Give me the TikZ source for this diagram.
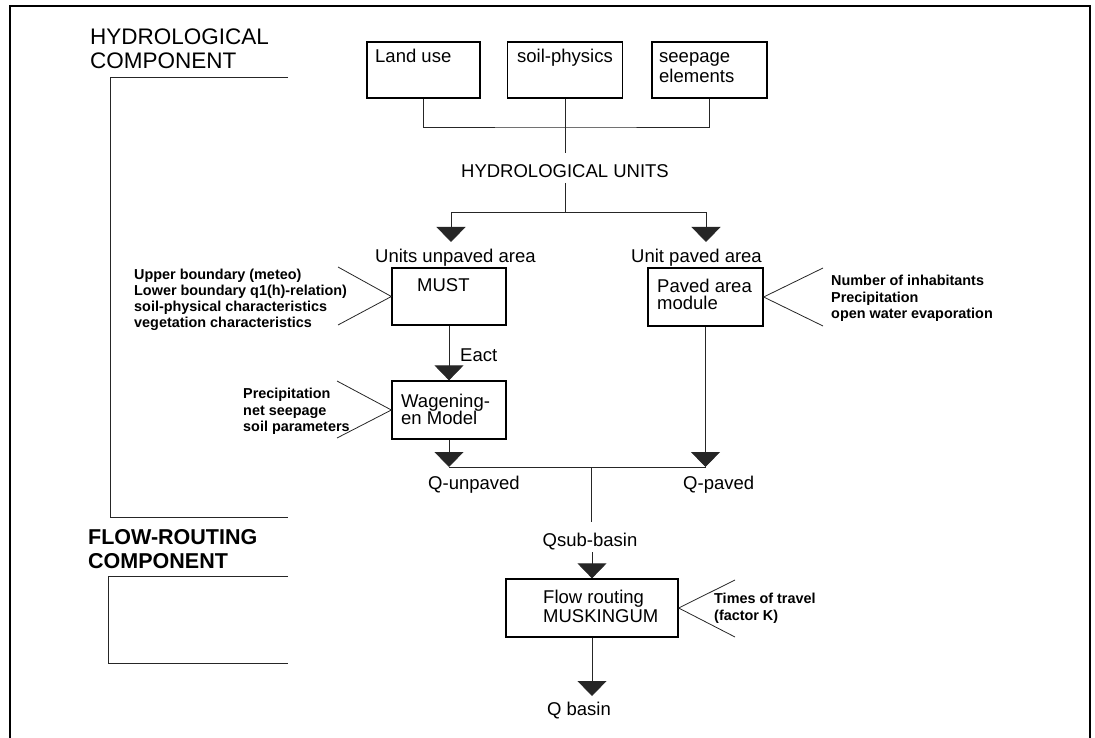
\documentclass[tikz,border=0pt]{standalone}
\usepackage{fontspec}
\setmainfont{Liberation Sans}
\usetikzlibrary{arrows.meta}
\begin{document}
\begin{tikzpicture}[x=1pt,y=-1pt,
  ln/.style={line width=0.8pt, draw=black!85},
  arr/.style={ln, -{Triangle[width=29pt,length=15pt]}},
  boxn/.style={draw=black, line width=1.3pt, inner sep=0pt},
  txt/.style={inner sep=0pt, anchor=base west, font=\fontsize{18.5}{20}\selectfont},
  hdr/.style={inner sep=0pt, anchor=base west, font=\fontsize{22.5}{25}\selectfont},
  ann/.style={inner sep=0pt, anchor=base west, font=\bfseries\fontsize{14.4}{16}\selectfont}
]
\useasboundingbox (0,0) rectangle (1095,738);
% frame and brackets
\draw[line width=1.4pt] (10,738) -- (10,6) -- (1090,6) -- (1090,738);
\draw[ln] (288,77) -- (110,77) -- (110,517) -- (288,517);
\draw[ln] (288,576) -- (108,576) -- (108,663) -- (288,663);
% headers
\node[hdr] (h1a) at (90,45) {HYDROLOGICAL};
\node[hdr] (h1b) at (90,69) {COMPONENT};
\node[hdr,font=\bfseries\fontsize{21.5}{25}\selectfont] (h2a) at (88,544) {FLOW-ROUTING};
\node[hdr,font=\bfseries\fontsize{21.5}{25}\selectfont] (h2b) at (88,568) {COMPONENT};
% top boxes
\node[boxn, minimum width=113pt, minimum height=56pt] (land) at (423.5,70) {};
\node[boxn, minimum width=115pt, minimum height=56pt] (soil) at (565,70) {};
\node[boxn, minimum width=115pt, minimum height=56pt] (seep) at (709.5,70) {};
\node[txt] (tland) at (375,63) {Land use};
\node[txt] (tsoil) at (517,63) {soil-physics};
\node[txt] (tseep1) at (659,63) {seepage};
\node[txt] (tseep2) at (659,83) {elements};
% hydrological units
\node[txt, anchor=base] (hu) at (565,178) {HYDROLOGICAL UNITS};
\coordinate (cjoin) at (565,127);
\coordinate (hutop) at (565,153);
\coordinate (hubot) at (565,183);
\coordinate (split) at (565,212);
\coordinate (tipu) at (451,242);
\coordinate (tipp) at (706,242);
\draw[ln] (land.south) |- (cjoin) -| (seep.south);
\draw[ln] (soil.south) -- (hutop);
\draw[ln] (hubot) -- (split);
\draw[arr] (split) -| (tipu);
\draw[arr] (split) -| (tipp);
\node[txt] (lu) at (375,262) {Units unpaved area};
\node[txt] (lp) at (631,262) {Unit paved area};
% MUST
\node[boxn, minimum width=114pt, minimum height=57pt] (must) at (449,296.5) {};
\node[txt] (tmust) at (417,291) {MUST};
% paved
\node[boxn, minimum width=115pt, minimum height=58pt] (paved) at (705.5,297) {};
\node[txt] (tpav1) at (657,292) {Paved area};
\node[txt] (tpav2) at (657,309) {module};
% Wageningen
\node[boxn, minimum width=114pt, minimum height=58pt] (wag) at (449,410) {};
\node[txt] (twag1) at (401,407) {Wagening-};
\node[txt] (twag2) at (401,424) {en Model};
\draw[arr] (must.south) -- (wag.north);
\node[txt] (eact) at (460,361) {Eact};
% annotations MUST
\node[ann] (m1) at (134,279) {Upper boundary (meteo)};
\node[ann] (m2) at (134,295) {Lower boundary q1(h)-relation)};
\node[ann] (m3) at (134,311) {soil-physical characteristics};
\node[ann] (m4) at (134,327) {vegetation characteristics};
\coordinate (fm1) at (338,267);
\coordinate (fm2) at (338,325);
\draw[ln] (fm1) -- (must.west) -- (fm2);
% annotations Wageningen
\node[ann] (w1) at (243,398) {Precipitation};
\node[ann] (w2) at (243,415) {net seepage};
\node[ann] (w3) at (243,431) {soil parameters};
\coordinate (fw1) at (337,381);
\coordinate (fw2) at (337,438);
\draw[ln] (fw1) -- (wag.west) -- (fw2);
% annotations paved
\node[ann] (p1) at (831,285) {Number of inhabitants};
\node[ann] (p2) at (831,302) {Precipitation};
\node[ann] (p3) at (831,318) {open water evaporation};
\coordinate (fp1) at (823,268);
\coordinate (fp2) at (823,326);
\draw[ln] (fp1) -- (paved.east) -- (fp2);
% Q lines
\coordinate (qu) at (449,467);
\coordinate (qp) at (705.5,467);
\coordinate (qj) at (591,467);
\coordinate (qjb) at (591,522);
\draw[arr] (wag.south) -- (qu);
\draw[arr] (paved.south) -- (qp);
\draw[ln] (qu) -- (qp);
\draw[ln] (qj) -- (qjb);
\node[txt] (tqu) at (428,489) {Q-unpaved};
\node[txt] (tqp) at (683,489) {Q-paved};
\node[txt, anchor=base] (qsub) at (590,546) {Qsub-basin};
% flow routing
\node[boxn, minimum width=172pt, minimum height=58pt] (flow) at (592,608) {};
\node[txt] (tfl1) at (543,603) {Flow routing};
\node[txt] (tfl2) at (543,622) {MUSKINGUM};
\coordinate (qsb) at (592,552);
\draw[arr] (qsb) -- (flow.north);
\node[ann] (f1) at (714,603) {Times of travel};
\node[ann] (f2) at (714,620) {(factor K)};
\coordinate (ff1) at (735,580);
\coordinate (ff2) at (735,637);
\draw[ln] (ff1) -- (flow.east) -- (ff2);
\coordinate (qb) at (592,696);
\draw[arr] (flow.south) -- (qb);
\node[txt, anchor=base] (tqb) at (579,715) {Q basin};
\end{tikzpicture}
\end{document}
